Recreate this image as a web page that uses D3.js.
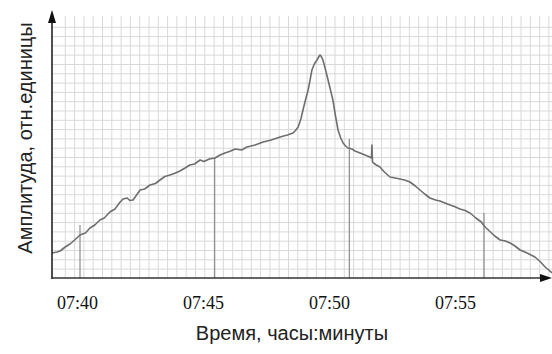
<!DOCTYPE html>
<html>
<head>
<meta charset="utf-8">
<script src="https://cdn.jsdelivr.net/npm/d3@7"></script>
<style>
  body { margin: 0; background: #fff; }
  svg { display: block; }
  .tick text { font-family: "Liberation Serif", "Times New Roman", "DejaVu Serif", serif; font-size: 18px; }
  .title { font-family: "Liberation Sans", Arial, "DejaVu Sans", sans-serif; font-size: 20px; }
</style>
</head>
<body>
<div id="chart"></div>
<script>
// time in minutes after 07:00, amplitude in relative units
const times = [38.96, 39.15, 39.26, 39.45, 39.63, 39.8, 40.0, 40.2, 40.37, 40.55, 40.74, 40.9, 41.11, 41.3,
  41.49, 41.6, 41.75, 41.85, 41.97, 42.1, 42.23, 42.4, 42.6, 42.8, 42.97, 43.15, 43.34, 43.5, 43.71, 43.9,
  44.08, 44.25, 44.46, 44.6, 44.8, 45.01, 45.2, 45.38, 45.55, 45.76, 46.0, 46.2, 46.5, 46.8, 47.1, 47.43,
  47.7, 47.91, 48.0, 48.1, 48.2, 48.28, 48.38, 48.47, 48.55, 48.61, 48.7, 48.8, 48.86, 48.91, 48.96,
  49.02, 49.1, 49.21, 49.3, 49.39, 49.48, 49.58, 49.68, 49.77, 49.86, 49.95, 50.1, 50.21, 50.4, 50.58,
  50.72, 50.82, 50.84, 50.86, 50.9, 51.0, 51.14, 51.3, 51.51, 51.7, 51.88, 52.05, 52.25, 52.45, 52.62,
  52.8, 52.99, 53.2, 53.37, 53.55, 53.74, 53.9, 54.11, 54.3, 54.48, 54.7, 54.9, 55.04, 55.2, 55.4, 55.6,
  55.8, 55.97, 56.15, 56.34, 56.6, 56.89, 57.1, 57.27, 57.53];
const amplitude = [10.0, 10.4, 10.8, 12.4, 13.6, 15.2, 17.2, 18.0, 20.0, 21.2, 23.2, 24.0, 26.4, 27.6,
  30.4, 31.6, 32.0, 31.0, 31.2, 33.2, 35.2, 35.6, 37.2, 37.8, 39.2, 40.6, 41.2, 41.8, 42.8, 44.0,
  45.2, 45.6, 47.2, 46.6, 47.6, 48.0, 49.2, 50.0, 50.6, 51.6, 51.2, 52.4, 53.2, 54.4, 55.2, 56.4,
  57.2, 58.0, 59.0, 60.4, 63.6, 67.2, 71.6, 75.2, 79.6, 83.2, 85.6, 87.2, 88.4, 89.2, 88.6,
  87.2, 84.0, 79.2, 75.2, 71.2, 65.2, 59.2, 56.0, 54.0, 52.8, 52.0, 51.6, 50.8, 50.0, 49.2,
  48.6, 48.0, 53.2, 46.4, 46.0, 45.2, 44.4, 42.4, 40.4, 40.0, 39.6, 39.2, 38.4, 36.8, 35.2,
  33.6, 32.0, 31.2, 30.8, 30.0, 29.2, 28.6, 27.6, 27.0, 26.0, 24.0, 22.4, 20.4, 18.8, 16.8, 15.2,
  14.8, 14.0, 12.8, 11.2, 10.0, 8.4, 6.4, 4.4, 2.0];

// dark vertical marker lines and their top amplitude
const markerTimes = [40, 45, 50, 55];
const markerTops = [21.2, 48.0, 55.6, 26.0];

const tickLabels = ['07:40', '07:45', '07:50', '07:55'];
const yTitle = 'Амплитуда, отн.единицы';
const xTitle = 'Время, часы:минуты';

const W = 552, H = 354;
const m = { left: 52, bottom: 278, top: 10, right: 552 };

const svg = d3.select('#chart').append('svg')
  .attr('width', W).attr('height', H);

const x = d3.scaleLinear().domain([40, 55]).range([80, 484]);
const y = d3.scaleLinear().domain([0, 100]).range([m.bottom, 28]);
// tick labels sit a bit left of the marker lines in the original
const xLab = d3.scaleLinear().domain([40, 55]).range([77, 455]);

// graph-paper grid
const step = 9.3;
const grid = svg.append('g').attr('stroke', '#d9d9d9').attr('stroke-width', 1);
grid.selectAll('.gv').data(d3.range(65.3, m.right, step)).enter().append('line')
  .attr('x1', d => d).attr('x2', d => d).attr('y1', 16).attr('y2', m.bottom);
grid.selectAll('.gh').data(d3.range(27.3, m.bottom, step)).enter().append('line')
  .attr('x1', m.left).attr('x2', m.right).attr('y1', d => d).attr('y2', d => d);

// marker lines
svg.append('g').selectAll('line').data(markerTimes).enter().append('line')
  .attr('x1', d => x(d)).attr('x2', d => x(d))
  .attr('y1', (d, i) => y(markerTops[i])).attr('y2', m.bottom)
  .attr('stroke', '#8a8a8a').attr('stroke-width', 1.2);

// signal trace
const pts = times.map((t, i) => [t, amplitude[i]]);
svg.append('path').datum(pts)
  .attr('fill', 'none').attr('stroke', '#6e6e6e').attr('stroke-width', 1.6)
  .attr('stroke-linejoin', 'round')
  .attr('d', d3.line().x(d => x(d[0])).y(d => y(d[1])));

// axes with arrows
svg.append('line').attr('x1', m.left).attr('x2', m.left).attr('y1', m.bottom + 1).attr('y2', m.top + 8)
  .attr('stroke', '#222').attr('stroke-width', 1.6);
svg.append('path').attr('d', `M${m.left},${m.top} L${m.left - 4},${m.top + 13} L${m.left + 4},${m.top + 13} Z`)
  .attr('fill', '#111');
svg.append('line').attr('x1', m.left).attr('x2', m.right - 6).attr('y1', m.bottom).attr('y2', m.bottom)
  .attr('stroke', '#333').attr('stroke-width', 1.6);
svg.append('path').attr('d', `M${m.right},${m.bottom} L${m.right - 12},${m.bottom - 4} L${m.right - 12},${m.bottom + 4} Z`)
  .attr('fill', '#111');

// tick labels
const xAxis = svg.append('g').attr('transform', `translate(0,${m.bottom + 15})`)
  .call(d3.axisBottom(xLab).tickValues(markerTimes).tickSize(0)
    .tickFormat((d, i) => tickLabels[i]));
xAxis.attr('font-family', null).attr('font-size', null);
xAxis.select('.domain').remove();
xAxis.selectAll('text').attr('fill', '#111');

// titles
svg.append('text').attr('class', 'title').attr('x', 292).attr('y', 340).attr('text-anchor', 'middle')
  .attr('fill', '#222').text(xTitle);
svg.append('text').attr('class', 'title').attr('transform', 'translate(32,138) rotate(-90)')
  .attr('text-anchor', 'middle').attr('fill', '#222').text(yTitle);
</script>
</body>
</html>
